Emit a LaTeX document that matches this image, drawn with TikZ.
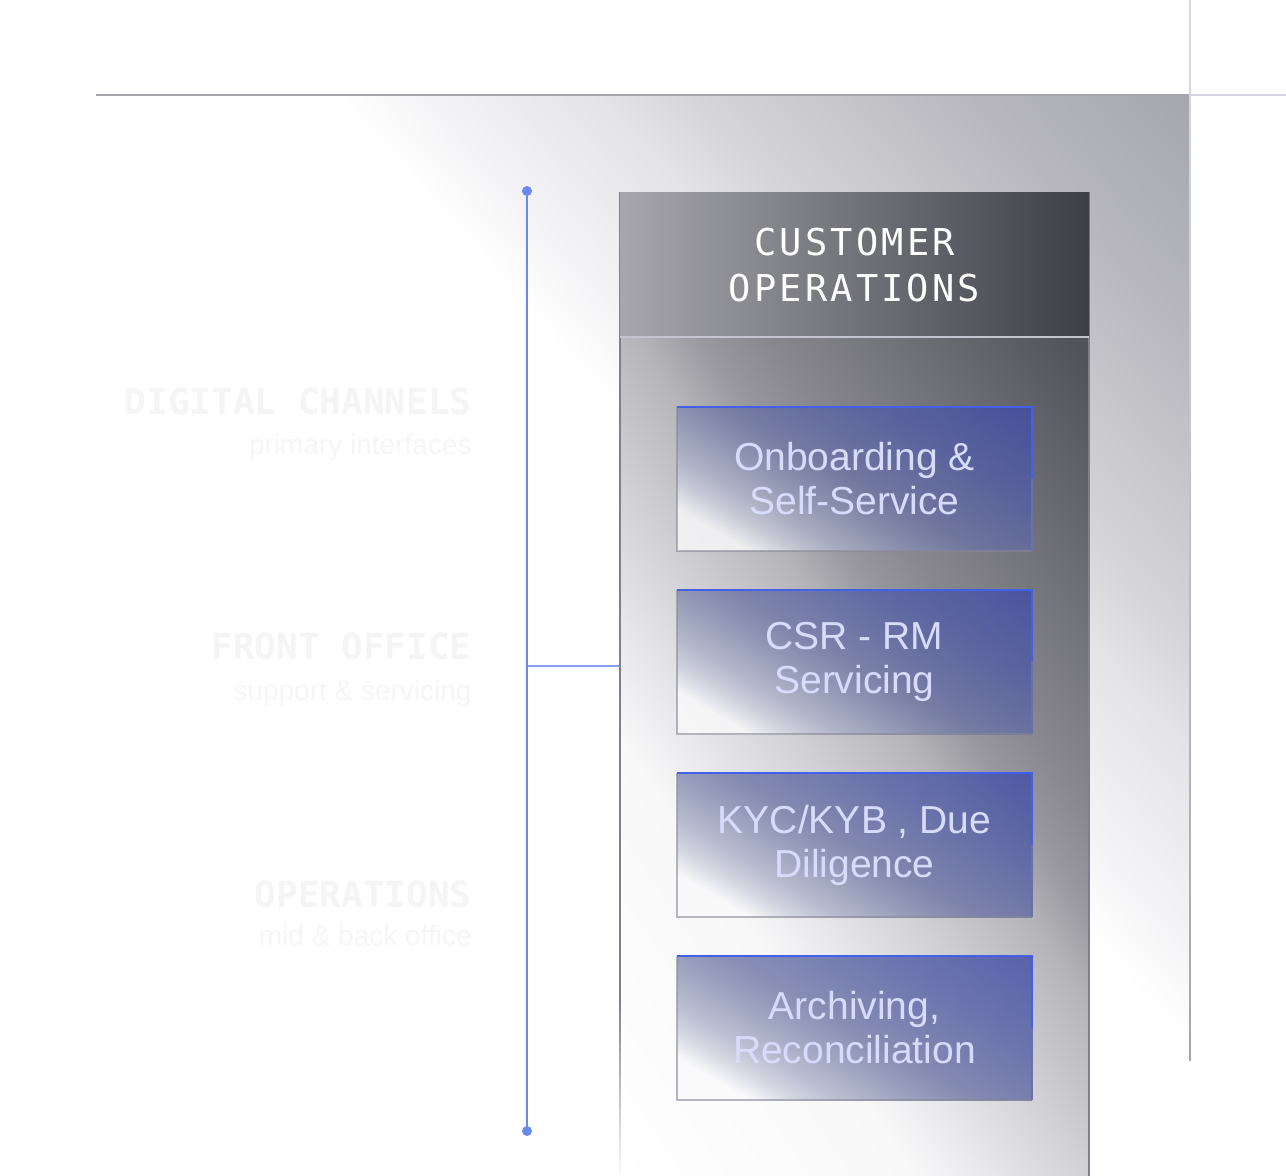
\documentclass[tikz,border=0pt]{standalone}
\usepackage{fontspec}
\setmainfont{Liberation Sans}
\newfontfamily\headfont{DejaVu Sans Mono}[LetterSpace=8.6]
\newfontfamily\ghostfont{DejaVu Sans Mono}
\usetikzlibrary{positioning, calc}

\definecolor{rail}{RGB}{106, 136, 240}
\definecolor{rule}{RGB}{164, 164, 170}
\definecolor{frame}{RGB}{214, 214, 226}
\definecolor{rim}{RGB}{128, 128, 138}
\definecolor{divider}{RGB}{196, 196, 206}
\definecolor{boxtext}{RGB}{216, 220, 252}
\definecolor{edgeblue}{RGB}{66, 96, 232}
\definecolor{edgemid}{RGB}{104, 112, 176}
\definecolor{edgegray}{RGB}{136, 136, 150}
\definecolor{ghostcap}{RGB}{245, 245, 247}
\definecolor{ghostsub}{RGB}{246, 246, 247}
% background glow
\definecolor{bg1}{RGB}{244, 244, 246}
\definecolor{bg2}{RGB}{228, 228, 231}
\definecolor{bg3}{RGB}{214, 214, 218}
\definecolor{bg4}{RGB}{184, 184, 190}
\definecolor{bg5}{RGB}{166, 166, 174}
% panel glow
\definecolor{pn1}{RGB}{248, 248, 249}
\definecolor{pn2}{RGB}{238, 238, 240}
\definecolor{pn3}{RGB}{208, 208, 212}
\definecolor{pn4}{RGB}{180, 180, 185}
\definecolor{pn5}{RGB}{152, 152, 158}
\definecolor{pn6}{RGB}{135, 135, 141}
\definecolor{pn7}{RGB}{82, 82, 90}
\definecolor{pn8}{RGB}{72, 72, 80}
% header
\definecolor{hd0}{RGB}{166, 166, 172}
\definecolor{hd1}{RGB}{110, 110, 118}
\definecolor{hd2}{RGB}{62, 62, 70}
% stage boxes
\definecolor{st0}{RGB}{250, 250, 251}
\definecolor{st1}{RGB}{204, 206, 220}
\definecolor{st2}{RGB}{172, 176, 200}
\definecolor{st3}{RGB}{132, 140, 176}
\definecolor{st4}{RGB}{108, 116, 164}
\definecolor{st5}{RGB}{86, 96, 164}
\definecolor{st6}{RGB}{62, 76, 168}

\pgfdeclarehorizontalshading{bgglow}{100bp}{%
  color(0bp)=(white); color(53.5bp)=(white); color(55.8bp)=(bg1);
  color(60.1bp)=(bg2); color(62.4bp)=(bg3); color(69.1bp)=(bg4);
  color(74.8bp)=(bg5); color(100bp)=(bg5)}
\pgfdeclarehorizontalshading{panelglow}{100bp}{%
  color(0bp)=(white); color(26.6bp)=(white); color(38.8bp)=(pn1);
  color(40.8bp)=(pn2); color(46.3bp)=(pn3); color(50.8bp)=(pn4);
  color(53.4bp)=(pn5); color(56.3bp)=(pn6); color(68.9bp)=(pn7);
  color(73.6bp)=(pn8); color(100bp)=(pn8)}
\pgfdeclarehorizontalshading{stageglow}{100bp}{%
  color(0bp)=(st0); color(35bp)=(st0); color(38bp)=(st1);
  color(41bp)=(st2); color(46bp)=(st3); color(50bp)=(st4);
  color(58bp)=(st5); color(70bp)=(st6); color(100bp)=(st6)}

\begin{document}
\begin{tikzpicture}[
    x=0.5pt, y=-0.5pt,
    rulestroke/.style={line width=1pt, draw=rule},
    framestroke/.style={line width=1pt, draw=frame},
    railstroke/.style={line width=1pt, draw=rail},
    rimstroke/.style={line width=0.8pt, draw=rim},
    panelbox/.style={
        minimum width=234.5pt,
        minimum height=494.5pt,
        inner sep=0pt, outer sep=0pt,
        path picture={
            \shade[shading=panelglow, shading angle=34]
                ([shift={(-250pt,-250pt)}]path picture bounding box.center) rectangle
                ([shift={(250pt,250pt)}]path picture bounding box.center);
        }
    },
    headbox/.style={
        minimum width=234.5pt,
        minimum height=72pt,
        inner sep=0pt, outer sep=0pt,
        left color=hd0, middle color=hd1, right color=hd2,
        text=white,
        align=center,
        font=\headfont\fontsize{18.5}{23}\selectfont
    },
    stagebox/.style={
        minimum width=177.5pt,
        minimum height=72pt,
        inner sep=0pt, outer sep=0pt,
        text=boxtext,
        align=center,
        font=\fontsize{19.5}{22}\selectfont,
        path picture={
            \shade[shading=stageglow, shading angle=60, fill opacity=0.8]
                ([shift={(-96pt,-96pt)}]path picture bounding box.center) rectangle
                ([shift={(96pt,96pt)}]path picture bounding box.center);
        }
    },
    blueedge/.style={line width=0.8pt, draw=edgeblue},
    midedge/.style={line width=0.8pt, draw=edgemid},
    softedge/.style={line width=0.8pt, draw=edgegray, draw opacity=0.6},
    ghostcaps/.style={font=\ghostfont\bfseries\fontsize{18}{21}\selectfont, text=ghostcap, inner sep=0pt},
    ghostline/.style={font=\fontsize{14}{17}\selectfont, text=ghostsub, inner sep=0pt}
]
\useasboundingbox (0,0) rectangle (1286,1176);

% === Background glow ===
\begin{scope}
    \clip (96,96) rectangle (1189,1100);
    \shade[shading=bgglow, shading angle=42] (-107.5,-152) rectangle (1392.5,1348);
\end{scope}
\draw[rulestroke] (96,95) -- (1189,95);
\draw[framestroke] (1190,0) -- (1190,95);
\shade[top color=frame, bottom color=rule] (1189.2,95) rectangle (1190.8,1060);
\draw[framestroke] (1191,95) -- (1286,95);

% === Ghost labels ===
\node[ghostcaps, anchor=base east] (digital) at (472,415) {DIGITAL CHANNELS};
\node[ghostline, anchor=base east] (digitalsub) at (472,455) {primary interfaces};
\node[ghostcaps, anchor=base east] (front) at (472,660) {FRONT OFFICE};
\node[ghostline, anchor=base east] (frontsub) at (472,700) {support \& servicing};
\node[ghostcaps, anchor=base east] (ops) at (472,907) {OPERATIONS};
\node[ghostline, anchor=base east] (opssub) at (472,945) {mid \& back office};

% === Customer operations column ===
\node[panelbox] (panel) at (854.5,687.5) {};
\draw[rimstroke] (panel.west |- 1000,1000) -- (panel.north west) -- (panel.north east) -- (panel.south east);
\shade[top color=rim, bottom color=white] ([xshift=-0.4pt]panel.west |- 1000,1000) rectangle ([xshift=0.4pt]panel.south west);
\node[headbox, anchor=north] (head) at (panel.north) {CUSTOMER\\OPERATIONS};
\draw[line width=0.6pt, draw=divider] (head.south west) -- (head.south east);

\node[stagebox, below=35pt of head] (onboard) {Onboarding \&\\Self-Service};
\node[stagebox, below=19.5pt of onboard] (csr) {CSR - RM\\Servicing};
\node[stagebox, below=19.5pt of csr] (kyc) {KYC/KYB , Due\\Diligence};
\node[stagebox, below=19.5pt of kyc] (archive) {Archiving,\\Reconciliation};

\foreach \s in {onboard, csr, kyc, archive} {
    \draw[softedge] (\s.north west) -- (\s.south west) -- (\s.south east);
    \draw[midedge] (\s.south east) -- (\s.east);
    \draw[blueedge] (\s.east) -- (\s.north east) -- (\s.north west);
}

% === Rail ===
\coordinate (railtop) at (527,191);
\coordinate (railbot) at (527,1131);
\coordinate (railtap) at (527,666);
\draw[railstroke] (railtop) -- (railbot);
\fill[rail] (railtop) circle (2.5pt) (railbot) circle (2.5pt);
\draw[railstroke, draw opacity=0.8] (railtap) -- (railtap -| panel.west);

\end{tikzpicture}
\end{document}
